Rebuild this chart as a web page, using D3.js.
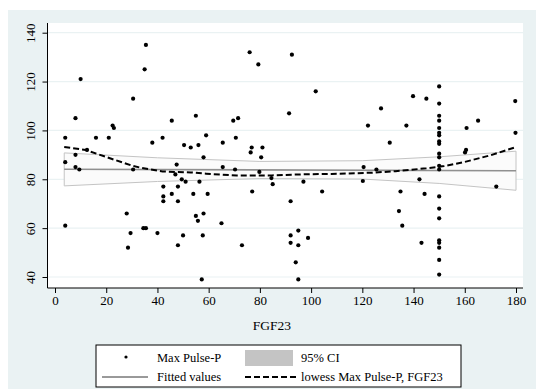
<!DOCTYPE html>
<html>
<head>
<meta charset="utf-8">
<script src="https://cdn.jsdelivr.net/npm/d3@7"></script>
<style>
  body { margin: 0; background: #fff; }
  svg { display: block; }
  text { font-family: "Liberation Serif", "Times New Roman", serif; fill: #000; }
</style>
</head>
<body>
<div id="chart"></div>
<script>
// scatter: FGF23 vs Max Pulse-P
const fgf23 = [
  4, 4, 4, 8, 8, 8, 9.5, 10, 12.5, 16,
  21, 22.5, 23, 28, 28.5, 29.5, 30.5, 30.5, 34.5, 35.5,
  35.5, 35, 38, 40, 42, 42.3, 42.3, 42.3, 45.6, 45.6,
  47.5, 47, 48, 48, 48, 49.5, 50.4, 51, 50, 53,
  54, 55, 55.8, 55, 56, 56.4, 58, 59, 59.6, 58,
  57.7, 57.3, 65.5, 65.5, 65, 69.6, 71.5, 70.6, 70.3, 73,
  76, 79.4, 76.8, 76.4, 81, 80.5, 79.8, 77, 84.5, 85,
  91.4, 92.5, 92, 92, 92, 95, 95, 94, 95, 97,
  98.8, 101.8, 104.3, 120.5, 120.2, 122.2, 125.5, 127.3, 130.7, 134.9,
  134.3, 135.6, 137.2, 139.8, 142.3, 143.1, 144.3, 145,
  150, 150, 150, 150, 150, 150, 150, 150, 150, 150,
  150, 150, 150, 150, 150, 150, 150, 150, 150, 150, 150,
  160.7, 165.2, 179.7, 179.8, 160.5, 160.1, 172.3
];
const maxPulse = [
  97, 87, 61, 105, 90, 85, 84, 121, 92, 97,
  97, 102, 101, 66, 52, 58, 113, 84, 60, 60,
  135, 125, 95, 58, 97, 77, 73, 71, 104, 74,
  86, 82, 77, 71, 53, 80, 94, 79, 57, 93,
  74, 65, 63, 106, 94, 79, 89, 98, 74, 66,
  57, 39, 95, 85, 62, 104, 105, 97, 84, 53,
  132, 127, 93, 91, 93, 89, 83, 75, 80.5, 78,
  107, 131, 71, 57, 54, 59, 53, 46, 39, 79,
  56, 116, 75, 85, 79.3, 102, 84, 109, 95, 75,
  67, 61, 102, 114, 80, 54, 74, 113,
  118, 111, 106, 104, 101, 99, 98, 95.5, 94.5, 90.5,
  89, 85.5, 84, 73, 68, 64, 55, 54, 52, 47, 41,
  101, 104, 112, 99, 92, 91, 77
];

// linear fit and its 95% CI
const fitX = [3.6, 180];
const fitY = [84.1, 83.5];
const ciX = [3.6, 40, 80, 120, 150, 180];
const ciUpper = [90.8, 88.8, 87.3, 87.6, 89.2, 91.5];
const ciLower = [77.3, 79.1, 80.3, 80.1, 78.3, 75.5];

// lowess smoother
const lowessX = [3.6, 12, 22, 30, 34, 42, 53, 59, 71, 85, 96, 108, 124, 133, 145, 152, 160, 170, 180];
const lowessY = [93.2, 92, 88.4, 85.6, 84.6, 83.2, 82.8, 82.3, 81.5, 81.6, 82, 82.2, 82.7, 83.3, 84.5, 85.4, 87.1, 89.8, 93.2];

const xTicks = [0, 20, 40, 60, 80, 100, 120, 140, 160, 180];
const yTicks = [40, 60, 80, 100, 120, 140];
const legendLabels = ['Max Pulse-P', '95% CI', 'Fitted values', 'lowess Max Pulse-P, FGF23'];

const width = 536;
const height = 389;
const plot = { left: 47.5, right: 523, top: 23, bottom: 288 };

const svg = d3.select('#chart')
  .append('svg')
  .attr('width', width)
  .attr('height', height);

// graph region + plot region
svg.append('rect')
  .attr('x', 8).attr('y', 10)
  .attr('width', width - 8).attr('height', height - 10)
  .attr('fill', '#eaf2f3');

svg.append('rect')
  .attr('x', plot.left).attr('y', plot.top)
  .attr('width', plot.right - plot.left).attr('height', plot.bottom - plot.top)
  .attr('fill', '#fff');

const x = d3.scaleLinear().domain([0, 180]).range([55, 516]);
const y = d3.scaleLinear().domain([40, 140]).range([277, 32.7]);

// grid lines
svg.append('g')
  .selectAll('line')
  .data(yTicks)
  .enter()
  .append('line')
  .attr('x1', plot.left).attr('x2', plot.right)
  .attr('y1', (d) => y(d)).attr('y2', (d) => y(d))
  .attr('stroke', '#eaf2f3')
  .attr('stroke-width', 1.2);

// CI band
const area = d3.area()
  .x((i) => x(ciX[i]))
  .y0((i) => y(ciLower[i]))
  .y1((i) => y(ciUpper[i]));

svg.append('path')
  .datum(d3.range(ciX.length))
  .attr('d', area)
  .attr('fill', '#fbfbfb')
  .attr('stroke', '#c4c4c4')
  .attr('stroke-width', 1);

// fitted line
const line = d3.line()
  .x((d) => x(d[0]))
  .y((d) => y(d[1]));

svg.append('path')
  .datum(d3.zip(fitX, fitY))
  .attr('d', line)
  .attr('fill', 'none')
  .attr('stroke', '#909090')
  .attr('stroke-width', 1.6);

// scatter points
svg.append('g')
  .selectAll('circle')
  .data(d3.zip(fgf23, maxPulse))
  .enter()
  .append('circle')
  .attr('cx', (d) => x(d[0]))
  .attr('cy', (d) => y(d[1]))
  .attr('r', 2.1)
  .attr('fill', '#000');

// lowess curve
svg.append('path')
  .datum(d3.zip(lowessX, lowessY))
  .attr('d', line)
  .attr('fill', 'none')
  .attr('stroke', '#000')
  .attr('stroke-width', 2)
  .attr('stroke-dasharray', '6,3');

// axes
const yAxis = svg.append('g')
  .attr('transform', `translate(${plot.left},0)`)
  .call(d3.axisLeft(y).tickValues(yTicks).tickSize(5).tickSizeOuter(0));
yAxis.select('.domain').remove();
yAxis.selectAll('line').attr('stroke', '#000');
yAxis.selectAll('text')
  .attr('transform', 'rotate(-90)')
  .attr('x', 0)
  .attr('y', -13)
  .attr('dy', 0)
  .attr('text-anchor', 'middle')
  .attr('font-size', 13)
  .attr('font-family', '"Liberation Serif", serif');

const xAxis = svg.append('g')
  .attr('transform', `translate(0,${plot.bottom})`)
  .call(d3.axisBottom(x).tickValues(xTicks).tickSize(5).tickSizeOuter(0));
xAxis.select('.domain').remove();
xAxis.selectAll('line').attr('stroke', '#000');
xAxis.selectAll('text')
  .attr('font-size', 13)
  .attr('font-family', '"Liberation Serif", serif');

svg.append('line')
  .attr('x1', plot.left).attr('x2', plot.left)
  .attr('y1', plot.top).attr('y2', plot.bottom)
  .attr('stroke', '#000');
svg.append('line')
  .attr('x1', plot.left).attr('x2', plot.right)
  .attr('y1', plot.bottom).attr('y2', plot.bottom)
  .attr('stroke', '#000');

svg.append('text')
  .attr('x', 272)
  .attr('y', 330)
  .attr('text-anchor', 'middle')
  .attr('font-size', 13.5)
  .text('FGF23');

// legend
const legend = svg.append('g');
legend.append('rect')
  .attr('x', 96).attr('y', 345)
  .attr('width', 365).attr('height', 42)
  .attr('fill', '#fff')
  .attr('stroke', '#000');

legend.append('circle')
  .attr('cx', 126).attr('cy', 357)
  .attr('r', 1.6)
  .attr('fill', '#000');
legend.append('rect')
  .attr('x', 245).attr('y', 350)
  .attr('width', 48).attr('height', 16)
  .attr('fill', '#c4c4c4');
legend.append('line')
  .attr('x1', 102).attr('x2', 148)
  .attr('y1', 377).attr('y2', 377)
  .attr('stroke', '#000').attr('stroke-width', 0.8);
legend.append('line')
  .attr('x1', 245).attr('x2', 297)
  .attr('y1', 377).attr('y2', 377)
  .attr('stroke', '#000').attr('stroke-width', 2)
  .attr('stroke-dasharray', '6,3');

const labelPos = [[157, 362], [301, 362], [157, 381], [301, 381]];
legend.selectAll('text')
  .data(legendLabels)
  .enter()
  .append('text')
  .attr('x', (d, i) => labelPos[i][0])
  .attr('y', (d, i) => labelPos[i][1])
  .attr('font-size', 12.5)
  .text((d) => d);
</script>
</body>
</html>
